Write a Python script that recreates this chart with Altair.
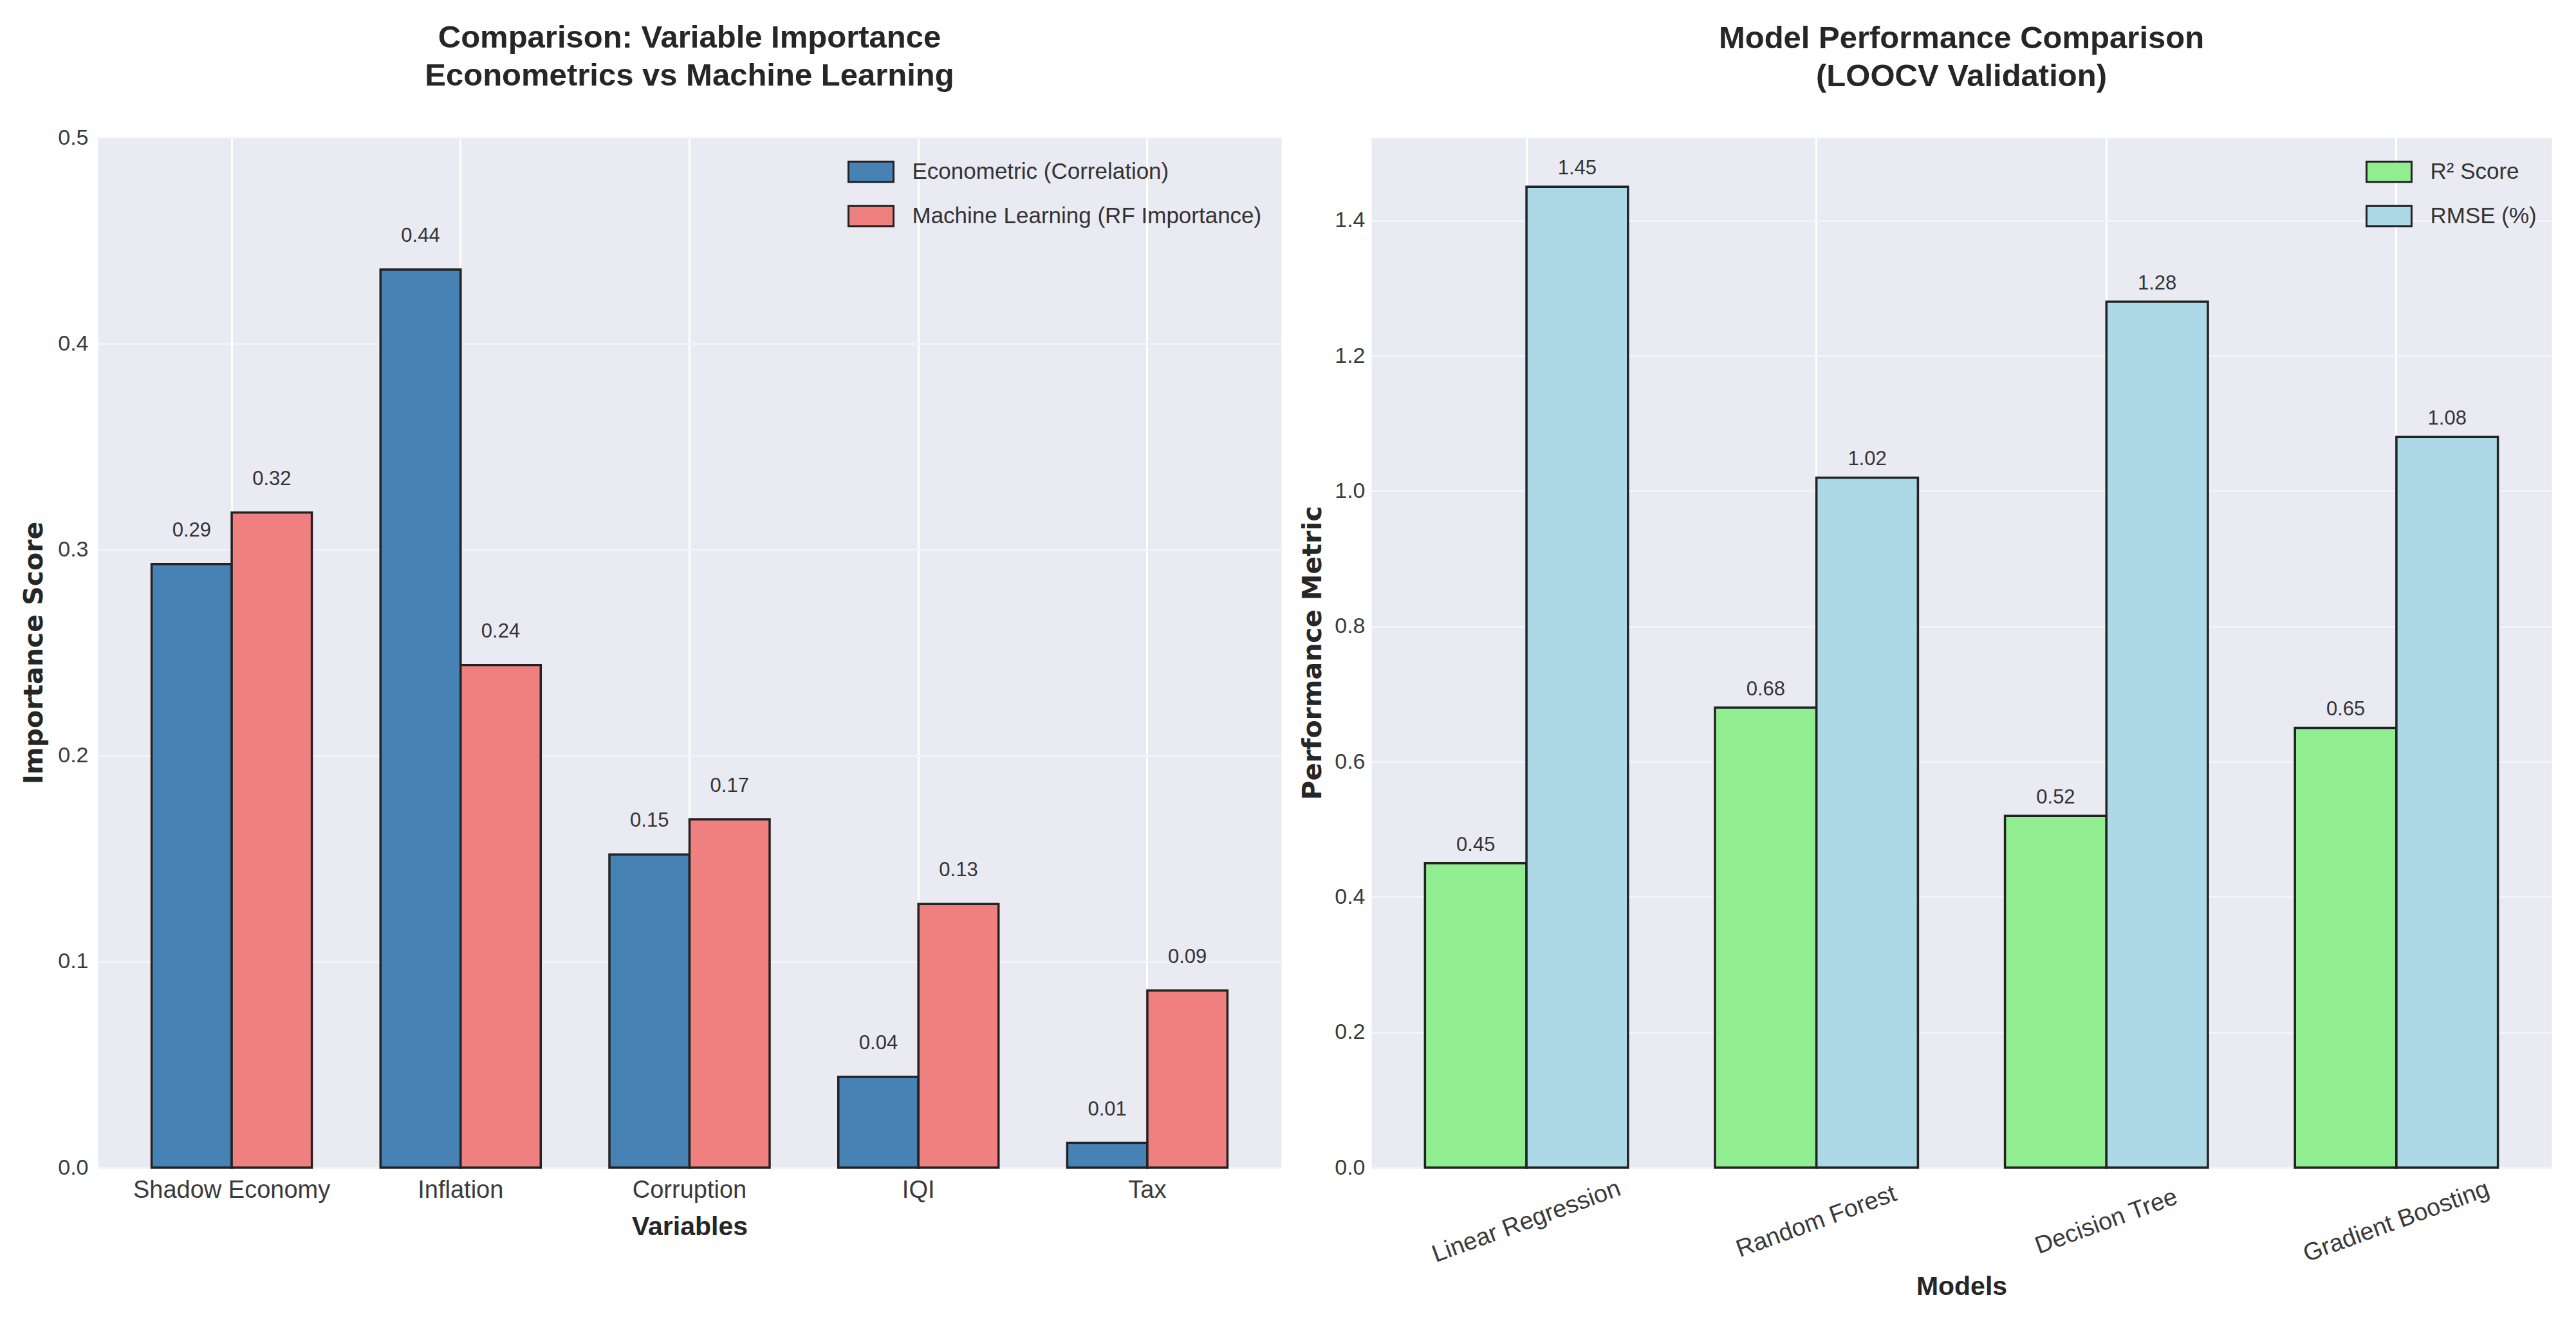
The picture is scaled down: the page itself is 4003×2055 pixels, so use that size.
import altair as alt
import pandas as pd

# ---------------- data ----------------
variables = ["Shadow Economy", "Inflation", "Corruption", "IQI", "Tax"]
econ_scores = [0.293, 0.436, 0.152, 0.044, 0.012]
ml_scores = [0.318, 0.244, 0.169, 0.128, 0.086]
left_series = ["Econometric (Correlation)", "Machine Learning (RF Importance)"]
left_colors = ["#4682B4", "#F08080"]
left_ticks = [0.0, 0.1, 0.2, 0.3, 0.4, 0.5]

models = ["Linear Regression", "Random Forest", "Decision Tree", "Gradient Boosting"]
r2_scores = [0.45, 0.68, 0.52, 0.65]
rmse_values = [1.45, 1.02, 1.28, 1.08]
right_series = ["R\u00b2 Score", "RMSE (%)"]
right_colors = ["#90EE90", "#ADD8E6"]
right_ticks = [0.0, 0.2, 0.4, 0.6, 0.8, 1.0, 1.2, 1.4]

left_df = pd.DataFrame({
    "Variable": variables + variables,
    "Series": [left_series[0]] * len(variables) + [left_series[1]] * len(variables),
    "Score": econ_scores + ml_scores,
})
right_df = pd.DataFrame({
    "Model": models + models,
    "Series": [right_series[0]] * len(models) + [right_series[1]] * len(models),
    "Value": r2_scores + rmse_values,
})

FONT = "Liberation Sans"
ROT_FONT = "DejaVu Sans"
EDGE = "#222222"
SWATCH = "M-2,-0.9H2V0.9H-2Z"
YGRID = "#F3F3F8"


def legend(x, y):
    return alt.Legend(
        title=None, orient="none", legendX=x, legendY=y,
        symbolType=SWATCH, symbolSize=1225, symbolStrokeColor=EDGE,
        symbolStrokeWidth=3, symbolOpacity=1,
        labelFont=FONT, labelFontSize=35, labelColor="#333333",
        labelOffset=45, rowPadding=25, padding=0, labelLimit=1000,
    )


# ---------------- left panel ----------------
base_l = alt.Chart(left_df).encode(
    x=alt.X("Variable:N", sort=variables,
            scale=alt.Scale(paddingInner=0.3, paddingOuter=0.235),
            axis=alt.Axis(title="Variables", labelAngle=0, labelFontSize=38,
                          labelPadding=16, titleFont=FONT, titleFontSize=41,
                          titleFontWeight="bold", titlePadding=18)),
    xOffset=alt.XOffset("Series:N", sort=left_series,
                        scale=alt.Scale(paddingInner=0, paddingOuter=0)),
    y=alt.Y("Score:Q", scale=alt.Scale(domain=[0, 0.5], nice=False, zero=True),
            axis=alt.Axis(title="Importance Score", values=left_ticks, format=".1f",
                          labelFontSize=34, labelPadding=15, titleFont=ROT_FONT,
                          titleFontSize=41, titleFontWeight="bold", titlePadding=15,
                          gridColor=YGRID)),
)
bars_l = base_l.mark_bar(stroke=EDGE, strokeWidth=3.5, opacity=1).encode(
    color=alt.Color("Series:N", sort=left_series,
                    scale=alt.Scale(domain=left_series, range=left_colors),
                    legend=legend(1182.5, 34)),
)
text_l = base_l.mark_text(baseline="alphabetic", dy=-43, fontSize=31, font=FONT,
                          color="#333333").encode(
    text=alt.Text("Score:Q", format=".2f"),
)
left = alt.layer(bars_l, text_l).properties(
    width=1839, height=1601,
    title=alt.TitleParams(["Comparison: Variable Importance",
                           "Econometrics vs Machine Learning"],
                          anchor="middle", frame="group", baseline="bottom",
                          offset=5, lineHeight=59),
)

# ---------------- right panel ----------------
base_r = alt.Chart(right_df).encode(
    x=alt.X("Model:N", sort=models,
            scale=alt.Scale(paddingInner=0.3, paddingOuter=0.185),
            axis=alt.Axis(title="Models", labelAngle=340, labelAlign="center",
                          labelBaseline="middle", labelFontSize=38, labelPadding=84,
                          titleFont=FONT, titleFontSize=41, titleFontWeight="bold",
                          titlePadding=11)),
    xOffset=alt.XOffset("Series:N", sort=right_series,
                        scale=alt.Scale(paddingInner=0, paddingOuter=0)),
    y=alt.Y("Value:Q", scale=alt.Scale(domain=[0, 1.5225], nice=False, zero=True),
            axis=alt.Axis(title="Performance Metric", values=right_ticks, format=".1f",
                          labelFontSize=34, labelPadding=10, titleFont=ROT_FONT,
                          titleFontSize=41, titleFontWeight="bold", titlePadding=12,
                          gridColor=YGRID)),
)
bars_r = base_r.mark_bar(stroke=EDGE, strokeWidth=3.5, opacity=1).encode(
    color=alt.Color("Series:N", sort=right_series,
                    scale=alt.Scale(domain=right_series, range=right_colors),
                    legend=legend(1562.5, 34)),
)
text_r = base_r.mark_text(baseline="alphabetic", dy=-19, fontSize=31, font=FONT,
                          color="#333333").encode(
    text=alt.Text("Value:Q", format=".2f"),
)
right = alt.layer(bars_r, text_r).properties(
    width=1834, height=1601,
    title=alt.TitleParams(["Model Performance Comparison", "(LOOCV Validation)"],
                          anchor="middle", frame="group", baseline="bottom",
                          offset=21, lineHeight=59),
)

chart = alt.hconcat(left, right, spacing=27).resolve_scale(
    color="independent", x="independent", xOffset="independent", y="independent"
).configure(
    padding={"left": 24, "top": 26, "right": 10, "bottom": 10},
    background="white",
).configure_view(
    fill="#EAEAF2", stroke="transparent",
).configure_axis(
    domain=False, ticks=False, grid=True, gridColor="#FFFFFF", gridWidth=3,
    gridOpacity=1, labelFont=FONT, labelColor="#3a3a3a", titleColor="#262626",
    labelLimit=1000,
).configure_title(
    font=FONT, fontSize=49, fontWeight="bold", color="#262626",
)

chart.save("out.html", embed_options={"renderer": "svg", "actions": False})
